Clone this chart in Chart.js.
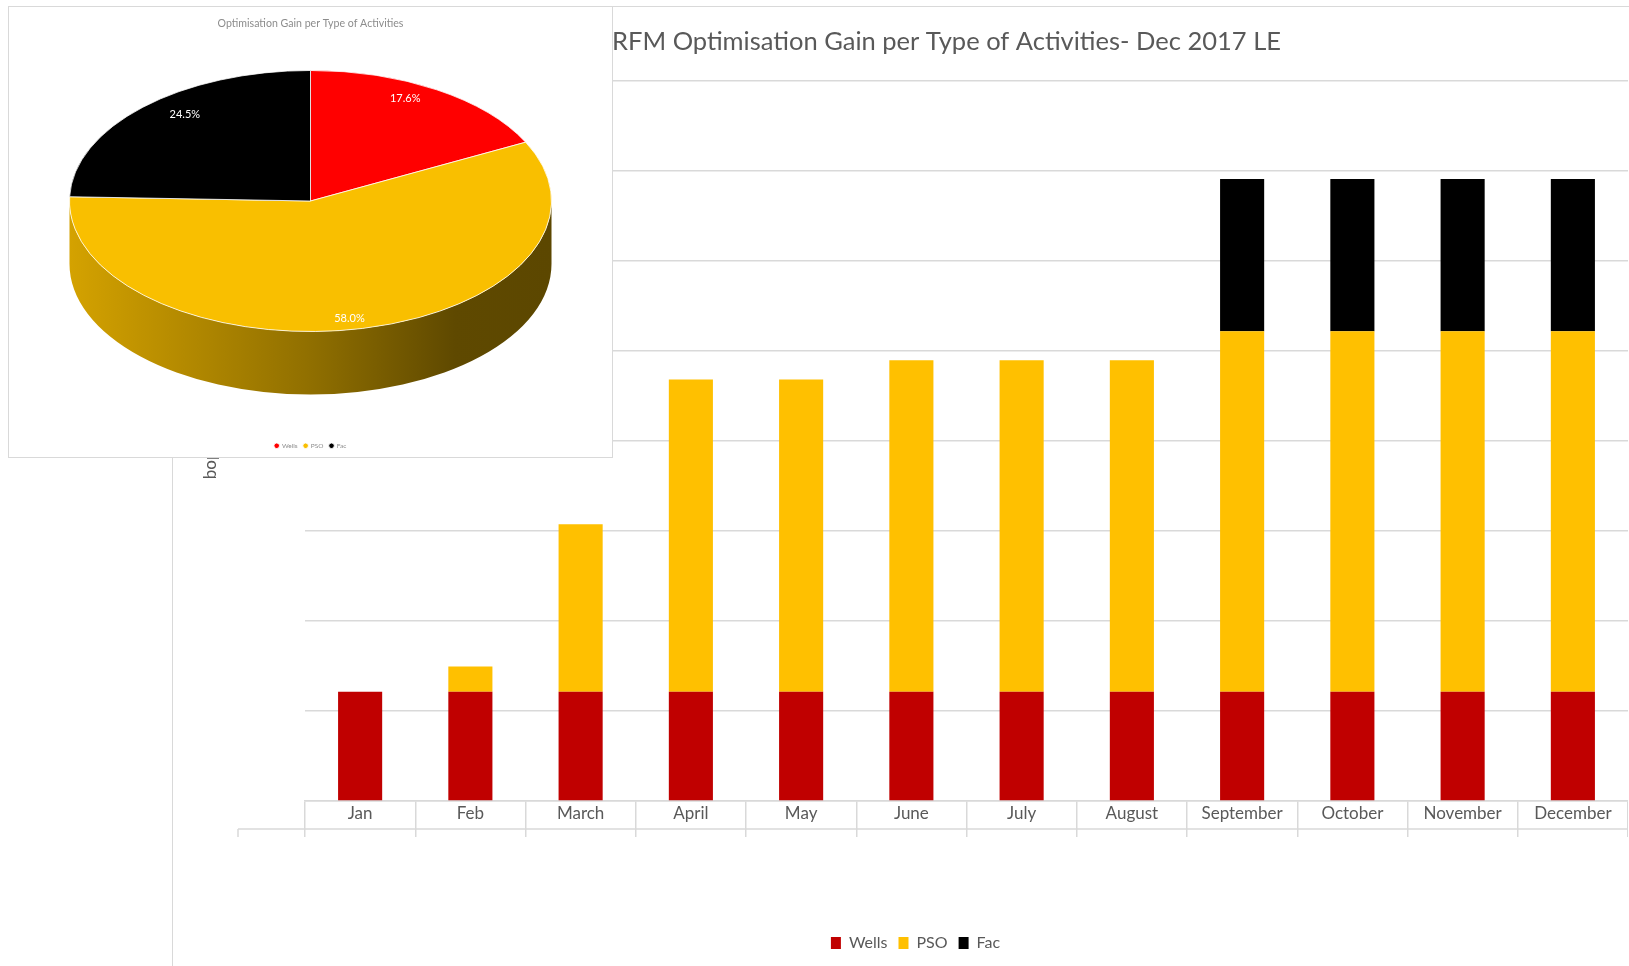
<!DOCTYPE html>
<html>
<head>
<meta charset="utf-8">
<script src="https://cdn.jsdelivr.net/npm/chart.js@4.4.1/dist/chart.umd.min.js"></script>
<style>
  html, body { margin: 0; padding: 0; background: #fff; width: 1629px; height: 966px; overflow: hidden; }
  #frame { position: absolute; left: 172px; top: 6px; width: 1600px; height: 1000px;
           border-left: 1px solid #d9d9d9; border-top: 1px solid #d9d9d9; }
  #barChart { position: absolute; left: 173px; top: 8px; }
  #pieBox { position: absolute; left: 8px; top: 6px; width: 603px; height: 450px;
            border: 1px solid #d9d9d9; background: #fff; }
</style>
</head>
<body>
<div id="frame"></div>
<canvas id="barChart" width="1455" height="953"></canvas>
<div id="pieBox"><canvas id="pieChart" width="603" height="450"></canvas></div>
<script>
// data (bopd)
const months = ['Jan', 'Feb', 'March', 'April', 'May', 'June', 'July', 'August', 'September', 'October', 'November', 'December'];
const seriesNames = ['Wells', 'PSO', 'Fac'];
const wells = [1213, 1213, 1213, 1213, 1213, 1213, 1213, 1213, 1213, 1213, 1213, 1213];
const pso = [0, 281, 1861, 3467, 3467, 3682, 3682, 3682, 4004, 4004, 4004, 4004];
const fac = [0, 0, 0, 0, 0, 0, 0, 0, 1691, 1691, 1691, 1691];
const yMax = 8000;
const yStep = 1000;

// pie = December split
const pieValues = [wells[11], pso[11], fac[11]];

const barTitle = 'RFM Optimisation Gain per Type of Activities- Dec 2017 LE';
const pieTitle = 'Optimisation Gain per Type of Activities';
const yTitle = 'bopd Gain';

const barColors = ['#c00000', '#ffc000', '#000000'];
const pieColors = ['#ff0000', '#f9bf00', '#000000'];

Chart.defaults.font.family = 'Lato, "Open Sans", sans-serif';
Chart.defaults.color = '#595959';

function shade(hex, f) {
  const n = parseInt(hex.slice(1), 16);
  const r = Math.round(((n >> 16) & 255) * f);
  const g = Math.round(((n >> 8) & 255) * f);
  const b = Math.round((n & 255) * f);
  return `rgb(${r},${g},${b})`;
}

// second row line of the data table under the axis
const tableRow = {
  id: 'tableRow',
  afterDraw(chart) {
    const ctx = chart.ctx, x = chart.scales.x;
    const y = x.top + 28;
    ctx.save();
    ctx.strokeStyle = '#d9d9d9';
    ctx.lineWidth = 1.5;
    ctx.beginPath();
    ctx.moveTo(x.left - 67, y);
    ctx.lineTo(x.right, y);
    ctx.moveTo(x.left - 67, y);
    ctx.lineTo(x.left - 67, x.top + 36);
    ctx.stroke();
    ctx.restore();
  }
};

// shift title / legend like the excel layout
const nudge = {
  id: 'nudge',
  afterLayout(chart, args, o) {
    chart.titleBlock.left += o.title;
    chart.titleBlock.right += o.title;
    chart.legend.left += o.legend;
    chart.legend.right += o.legend;
  }
};

new Chart(document.getElementById('barChart'), {
  type: 'bar',
  data: {
    labels: months,
    datasets: [
      { label: seriesNames[0], data: wells, backgroundColor: barColors[0] },
      { label: seriesNames[1], data: pso, backgroundColor: barColors[1] },
      { label: seriesNames[2], data: fac, backgroundColor: barColors[2] }
    ]
  },
  options: {
    responsive: false,
    animation: false,
    datasets: { bar: { barPercentage: 0.4, categoryPercentage: 1 } },
    scales: {
      x: {
        stacked: true,
        grid: { offset: true, drawOnChartArea: false, tickLength: 36, color: '#d9d9d9', lineWidth: 1.5 },
        border: { color: '#d9d9d9', width: 1.5 },
        ticks: { padding: -34, font: { size: 17 }, color: '#595959', maxRotation: 0, autoSkip: false },
        afterFit: s => { s.height = 123; }
      },
      y: {
        stacked: true,
        min: 0,
        max: yMax,
        ticks: { display: false, stepSize: yStep },
        grid: { color: '#d9d9d9', lineWidth: 1.5, drawTicks: false },
        border: { display: false },
        title: { display: true, text: yTitle, font: { size: 17 }, color: '#595959', padding: { top: 27, bottom: 0 } },
        afterFit: s => { s.width = 132; }
      }
    },
    plugins: {
      title: { display: true, text: barTitle, color: '#595959', font: { size: 25.5, weight: 'normal' }, padding: { top: 18, bottom: 24 } },
      legend: { position: 'bottom', labels: { boxWidth: 10, boxHeight: 12, padding: 11, font: { size: 16 }, color: '#595959' } },
      tooltip: { enabled: false },
      nudge: { title: 46, legend: 15 }
    }
  },
  plugins: [tableRow, nudge]
});

// fake 3d: squash the pie and draw the front wall
const tilt = {
  id: 'tilt',
  beforeDatasetsDraw(chart, args, o) {
    const ctx = chart.ctx;
    const arcs = chart.getDatasetMeta(0).data;
    const cx = arcs[0].x, cy = o.centerY, R = arcs[0].outerRadius, ry = R * o.ratio;
    const colors = chart.data.datasets[0].backgroundColor;
    arcs.forEach((a, i) => {
      const s = Math.max(a.startAngle, 0), e = Math.min(a.endAngle, Math.PI);
      if (e <= s) return;
      const g = ctx.createLinearGradient(cx - R, 0, cx + R, 0);
      [[0, 0.85], [0.5, 0.58], [0.8, 0.38], [1, 0.37]].forEach(([p, f]) => g.addColorStop(p, shade(colors[i], f)));
      ctx.beginPath();
      ctx.ellipse(cx, cy, R, ry, 0, s, e);
      ctx.ellipse(cx, cy + o.depth, R, ry, 0, e, s, true);
      ctx.closePath();
      ctx.fillStyle = g;
      ctx.fill();
    });
    ctx.save();
    ctx.translate(cx, cy);
    ctx.scale(1, o.ratio);
    ctx.translate(-cx, -arcs[0].y);
  },
  afterDatasetsDraw(chart, args, o) {
    const ctx = chart.ctx;
    ctx.restore();
    const arcs = chart.getDatasetMeta(0).data;
    const vals = chart.data.datasets[0].data;
    const total = vals.reduce((a, b) => a + b, 0);
    const cx = arcs[0].x, cy = o.centerY, R = arcs[0].outerRadius, ry = R * o.ratio;
    ctx.save();
    ctx.font = '11px Lato, "Open Sans", sans-serif';
    ctx.fillStyle = '#ffffff';
    ctx.textAlign = 'center';
    ctx.textBaseline = 'middle';
    arcs.forEach((a, i) => {
      const mid = (a.startAngle + a.endAngle) / 2;
      const x = cx + o.labelX * R * Math.cos(mid);
      const y = cy + o.labelY * ry * Math.sin(mid);
      ctx.fillText((vals[i] / total * 100).toFixed(1) + '%', x, y);
    });
    ctx.restore();
  }
};

new Chart(document.getElementById('pieChart'), {
  type: 'pie',
  data: {
    labels: seriesNames,
    datasets: [{ data: pieValues, backgroundColor: pieColors, borderColor: '#ffffff', borderWidth: 1, radius: 241, clip: 1000 }]
  },
  options: {
    responsive: false,
    animation: false,
    layout: { padding: { bottom: -2 } },
    plugins: {
      title: { display: true, text: pieTitle, color: '#8c8c8c', font: { size: 10.6, weight: 'normal' }, padding: { top: 10, bottom: 4 } },
      legend: { position: 'bottom', labels: { usePointStyle: true, pointStyle: 'circle', boxWidth: 4, boxHeight: 4, padding: 6, font: { size: 6.5 }, color: '#8c8c8c' } },
      tooltip: { enabled: false },
      tilt: { ratio: 0.5416, depth: 63, centerY: 194, labelX: 0.75, labelY: 0.92 }
    }
  },
  plugins: [tilt]
});
</script>
</body>
</html>
